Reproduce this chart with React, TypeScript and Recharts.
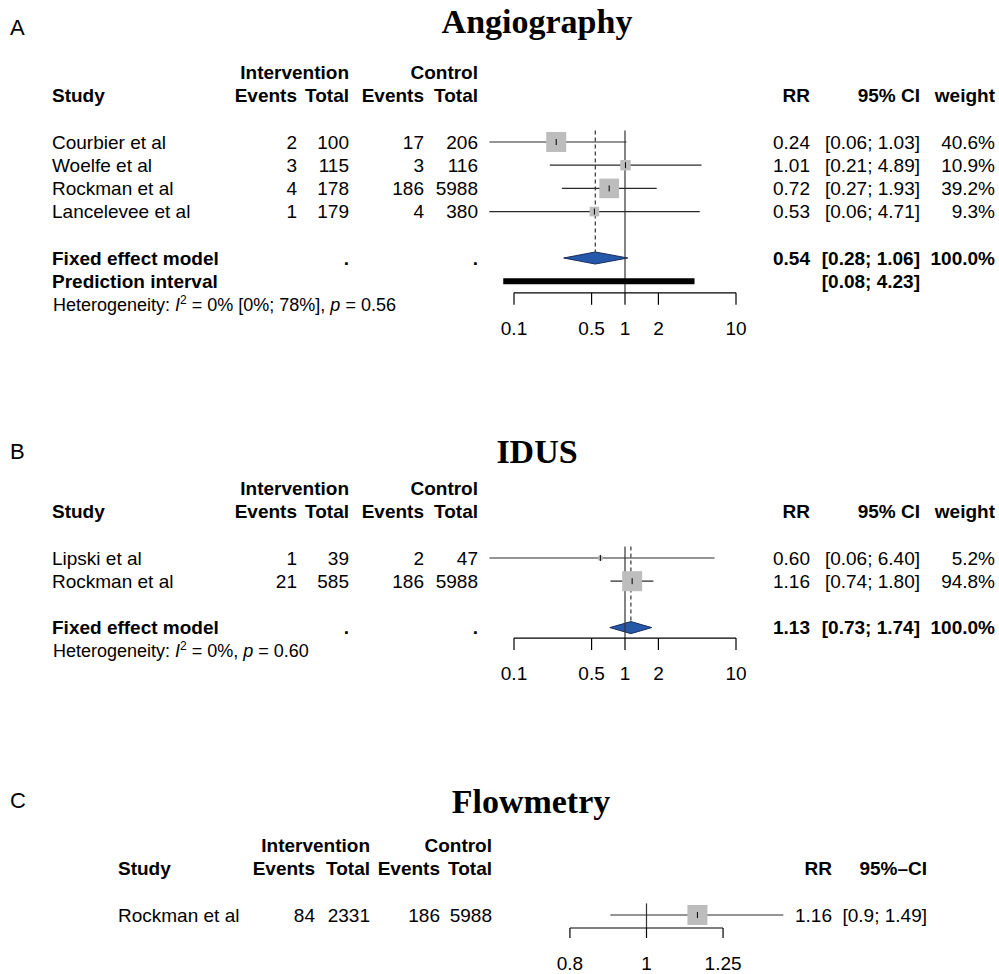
import React from 'react';
import { ComposedChart, XAxis, YAxis, Scatter, Area, ReferenceLine } from 'recharts';

const W = 999;
const H = 974;
const SANS = '"Liberation Sans", Arial, Helvetica, sans-serif';
const SERIF = '"Liberation Serif", "Times New Roman", Times, serif';
const ROW_H = 23.2;
const FS = 19;
const BOX_MAX = 20;
const DIAMOND_HALF = 0.26;
const AXIS_H = 45;

// ---------- Panel A: Angiography ----------
const studiesA = ['Courbier et al', 'Woelfe et al', 'Rockman et al', 'Lancelevee et al'];
const eventsIntA = [2, 3, 4, 1];
const totalIntA = [100, 115, 178, 179];
const eventsCtlA = [17, 3, 186, 4];
const totalCtlA = [206, 116, 5988, 380];
const rrA = [0.24, 1.01, 0.72, 0.53];
const lowA = [0.06, 0.21, 0.27, 0.06];
const highA = [1.03, 4.89, 1.93, 4.71];
const weightA = [40.6, 10.9, 39.2, 9.3];
const fixedA = [0.54, 0.28, 1.06];
const predictionA = [0.08, 4.23];
const hetA = ['0%', ' [0%; 78%]', '0.56'];

// ---------- Panel B: IDUS ----------
const studiesB = ['Lipski et al', 'Rockman et al'];
const eventsIntB = [1, 21];
const totalIntB = [39, 585];
const eventsCtlB = [2, 186];
const totalCtlB = [47, 5988];
const rrB = [0.6, 1.16];
const lowB = [0.06, 0.74];
const highB = [6.4, 1.8];
const weightB = [5.2, 94.8];
const fixedB = [1.13, 0.73, 1.74];
const hetB = ['0%', '', '0.60'];

// ---------- Panel C: Flowmetry ----------
const studiesC = ['Rockman et al'];
const eventsIntC = [84];
const totalIntC = [2331];
const eventsCtlC = [186];
const totalCtlC = [5988];
const rrC = [1.16];
const lowC = [0.9];
const highC = [1.49];
const weightC = [100];

const ticksAB = [0.1, 0.5, 1, 2, 10];
const tickLabelsAB = ['0.1', '0.5', '1', '2', '10'];
const ticksC = [0.8, 1, 1.25];
const tickLabelsC = ['0.8', '1', '1.25'];

type Panel = {
  label: string; title: string; titleX: number; titleBase: number; labelMid: number;
  chartTop: number; chartH: number; row1Y: number; axisRow: number;
  xDomain: [number, number]; xLeft: number; xRight: number;
  ticks: number[]; tickLabels: string[]; tickLen: number;
  studies: string[]; evI: number[]; totI: number[]; evC: number[]; totC: number[];
  rr: number[]; lo: number[]; hi: number[]; w: number[];
  fixed: number[] | null; fixedRow: number; pred: number[] | null; predRow: number;
  het: string[] | null; hetRow: number;
  cols: { study: number; ev1: number; tot1: number; ev2: number; tot2: number; rr: number; ci: number; w: number | null };
  ciHeader: string; ciFixed: boolean;
};

const panels: Panel[] = [
  {
    label: 'A', title: 'Angiography', titleX: 537, titleBase: 33, labelMid: 27,
    chartTop: 0, chartH: 360, row1Y: 142, axisRow: 7.5,
    xDomain: [0.02, 50], xLeft: 625 - 111 * 1.69897, xRight: 625 + 111 * 1.69897,
    ticks: ticksAB, tickLabels: tickLabelsAB, tickLen: 12,
    studies: studiesA, evI: eventsIntA, totI: totalIntA, evC: eventsCtlA, totC: totalCtlA,
    rr: rrA, lo: lowA, hi: highA, w: weightA,
    fixed: fixedA, fixedRow: 6, pred: predictionA, predRow: 7, het: hetA, hetRow: 8,
    cols: { study: 52, ev1: 297, tot1: 349, ev2: 424, tot2: 478, rr: 810, ci: 920, w: 995 },
    ciHeader: '95% CI', ciFixed: true,
  },
  {
    label: 'B', title: 'IDUS', titleX: 537, titleBase: 463, labelMid: 451,
    chartTop: 400, chartH: 300, row1Y: 558, axisRow: 4.45,
    xDomain: [0.02, 50], xLeft: 625 - 111 * 1.69897, xRight: 625 + 111 * 1.69897,
    ticks: ticksAB, tickLabels: tickLabelsAB, tickLen: 12,
    studies: studiesB, evI: eventsIntB, totI: totalIntB, evC: eventsCtlB, totC: totalCtlB,
    rr: rrB, lo: lowB, hi: highB, w: weightB,
    fixed: fixedB, fixedRow: 4, pred: null, predRow: 0, het: hetB, hetRow: 5,
    cols: { study: 52, ev1: 297, tot1: 349, ev2: 424, tot2: 478, rr: 810, ci: 920, w: 995 },
    ciHeader: '95% CI', ciFixed: true,
  },
  {
    label: 'C', title: 'Flowmetry', titleX: 531, titleBase: 813, labelMid: 800,
    chartTop: 760, chartH: 214, row1Y: 915, axisRow: 1.56,
    xDomain: [0.6, 1.6], xLeft: 646.5 + 790 * Math.log10(0.6), xRight: 646.5 + 790 * Math.log10(1.6),
    ticks: ticksC, tickLabels: tickLabelsC, tickLen: 10,
    studies: studiesC, evI: eventsIntC, totI: totalIntC, evC: eventsCtlC, totC: totalCtlC,
    rr: rrC, lo: lowC, hi: highC, w: weightC,
    fixed: null, fixedRow: 0, pred: null, predRow: 0, het: null, hetRow: 0,
    cols: { study: 118, ev1: 315, tot1: 370, ev2: 440, tot2: 492, rr: 832, ci: 927, w: null },
    ciHeader: '95%\u2013CI', ciFixed: false,
  },
];

const rowY = (p: Panel, r: number) => p.row1Y + (r - 1) * ROW_H;
const base = (mid: number, fs: number) => mid + 0.358 * fs;

function Box(props: any) {
  const { cx, cy, payload } = props;
  const s = payload.box;
  return (
    <g>
      <rect x={cx - s / 2} y={cy - s / 2} width={s} height={s} fill="#bdbdbd" />
      <line x1={cx} x2={cx} y1={cy - 3} y2={cy + 3} stroke="#000" strokeWidth={1} />
    </g>
  );
}

function ForestChart({ p }: { p: Panel }) {
  const top = rowY(p, 0);
  const bottom = rowY(p, p.axisRow);
  const wmax = Math.max(...p.w);
  const pts = p.rr.map((v, i) => ({ x: v, y: i + 1, box: BOX_MAX * Math.sqrt(p.w[i] / wmax) }));
  const diamond = p.fixed
    ? [
        { x: p.fixed[1], r: [p.fixedRow, p.fixedRow] },
        { x: p.fixed[0], r: [p.fixedRow - DIAMOND_HALF, p.fixedRow + DIAMOND_HALF] },
        { x: p.fixed[2], r: [p.fixedRow, p.fixedRow] },
      ]
    : [];
  const tickFn = (tp: any) => {
    const { x, y, payload } = tp;
    const i = p.ticks.indexOf(payload.value);
    return (
      <g>
        <line x1={x} y1={y} x2={x} y2={y + p.tickLen} stroke="#000" strokeWidth={1.2} />
        <text x={x} y={base(y + 35, FS)} textAnchor="middle" fontSize={FS} fontFamily={SANS} fill="#000">
          {p.tickLabels[i]}
        </text>
      </g>
    );
  };
  return (
    <div style={{ position: 'absolute', left: 0, top: p.chartTop }}>
      <ComposedChart
        width={W}
        height={p.chartH}
        margin={{ top: top - p.chartTop, bottom: p.chartTop + p.chartH - bottom - AXIS_H, left: p.xLeft, right: W - p.xRight }}
      >
        <XAxis
          type="number"
          dataKey="x"
          scale="log"
          domain={p.xDomain}
          allowDataOverflow
          ticks={p.ticks}
          interval={0}
          axisLine={false}
          tickLine={false}
          tickSize={0}
          tickMargin={0}
          height={AXIS_H}
          tick={tickFn}
        />
        <YAxis type="number" dataKey="y" domain={[0, p.axisRow]} reversed hide width={0} allowDataOverflow />
        <ReferenceLine segment={[{ x: 1, y: 0.5 }, { x: 1, y: p.axisRow }]} stroke="#333" strokeWidth={1.2} />
        {p.fixed && (
          <ReferenceLine
            segment={[{ x: p.fixed[0], y: 0.5 }, { x: p.fixed[0], y: p.fixedRow - DIAMOND_HALF }]}
            stroke="#333"
            strokeWidth={1.2}
            strokeDasharray="4 3"
          />
        )}
        <Scatter data={pts} shape={Box} isAnimationActive={false} />
        {p.rr.map((_, i) => (
          <ReferenceLine
            key={'ci' + i}
            segment={[{ x: p.lo[i], y: i + 1 }, { x: p.hi[i], y: i + 1 }]}
            stroke="#2a2a2a"
            strokeWidth={1.2}
          />
        ))}
        {p.fixed && (
          <Area
            data={diamond}
            dataKey="r"
            type="linear"
            fill="#2557ab"
            fillOpacity={1}
            stroke="#1a2d5c"
            strokeWidth={1}
            dot={false}
            activeDot={false}
            isAnimationActive={false}
          />
        )}
        {p.pred && (
          <ReferenceLine
            segment={[{ x: p.pred[0], y: p.predRow }, { x: p.pred[1], y: p.predRow }]}
            stroke="#000"
            strokeWidth={6}
          />
        )}
        <ReferenceLine
          segment={[{ x: p.ticks[0], y: p.axisRow }, { x: p.ticks[p.ticks.length - 1], y: p.axisRow }]}
          stroke="#000"
          strokeWidth={1.2}
        />
      </ComposedChart>
    </div>
  );
}

function Txt({ x, mid, s, anchor = 'start', bold = false, fs = FS }: any) {
  return (
    <text x={x} y={base(mid, fs)} textAnchor={anchor} fontSize={fs} fontWeight={bold ? 'bold' : 'normal'} fontFamily={SANS} fill="#000">
      {s}
    </text>
  );
}

function PanelText({ p }: { p: Panel }) {
  const c = p.cols;
  const fmtCI = (lo: number, hi: number) =>
    p.ciFixed ? `[${lo.toFixed(2)}; ${hi.toFixed(2)}]` : `[${lo}; ${hi}]`;
  const out: any[] = [];
  const h1 = rowY(p, -1);
  const h0 = rowY(p, -2);
  out.push(<Txt key="l" x={10} mid={p.labelMid} s={p.label} fs={22} />);
  out.push(
    <text key="t" x={p.titleX} y={p.titleBase} textAnchor="middle" fontSize={34} fontWeight="bold" fontFamily={SERIF} fill="#000">
      {p.title}
    </text>
  );
  out.push(<Txt key="hi" x={c.tot1} mid={h0} s="Intervention" anchor="end" bold />);
  out.push(<Txt key="hc" x={c.tot2} mid={h0} s="Control" anchor="end" bold />);
  out.push(<Txt key="hs" x={c.study} mid={h1} s="Study" bold />);
  out.push(<Txt key="he1" x={c.ev1} mid={h1} s="Events" anchor="end" bold />);
  out.push(<Txt key="ht1" x={c.tot1} mid={h1} s="Total" anchor="end" bold />);
  out.push(<Txt key="he2" x={c.ev2} mid={h1} s="Events" anchor="end" bold />);
  out.push(<Txt key="ht2" x={c.tot2} mid={h1} s="Total" anchor="end" bold />);
  out.push(<Txt key="hrr" x={c.rr} mid={h1} s="RR" anchor="end" bold />);
  out.push(<Txt key="hci" x={c.ci} mid={h1} s={p.ciHeader} anchor="end" bold />);
  if (c.w !== null) out.push(<Txt key="hw" x={c.w} mid={h1} s="weight" anchor="end" bold />);
  p.studies.forEach((name, i) => {
    const m = rowY(p, i + 1);
    out.push(<Txt key={'s' + i} x={c.study} mid={m} s={name} />);
    out.push(<Txt key={'a' + i} x={c.ev1} mid={m} s={String(p.evI[i])} anchor="end" />);
    out.push(<Txt key={'b' + i} x={c.tot1} mid={m} s={String(p.totI[i])} anchor="end" />);
    out.push(<Txt key={'c' + i} x={c.ev2} mid={m} s={String(p.evC[i])} anchor="end" />);
    out.push(<Txt key={'d' + i} x={c.tot2} mid={m} s={String(p.totC[i])} anchor="end" />);
    out.push(<Txt key={'r' + i} x={c.rr} mid={m} s={p.rr[i].toFixed(2)} anchor="end" />);
    out.push(<Txt key={'ci' + i} x={c.ci} mid={m} s={fmtCI(p.lo[i], p.hi[i])} anchor="end" />);
    if (c.w !== null) out.push(<Txt key={'w' + i} x={c.w} mid={m} s={p.w[i].toFixed(1) + '%'} anchor="end" />);
  });
  if (p.fixed) {
    const m = rowY(p, p.fixedRow);
    out.push(<Txt key="fm" x={c.study} mid={m} s="Fixed effect model" bold />);
    out.push(<Txt key="fd1" x={c.tot1} mid={m} s="." anchor="end" bold />);
    out.push(<Txt key="fd2" x={c.tot2} mid={m} s="." anchor="end" bold />);
    out.push(<Txt key="fr" x={c.rr} mid={m} s={p.fixed[0].toFixed(2)} anchor="end" bold />);
    out.push(<Txt key="fc" x={c.ci} mid={m} s={fmtCI(p.fixed[1], p.fixed[2])} anchor="end" bold />);
    if (c.w !== null) out.push(<Txt key="fw" x={c.w} mid={m} s="100.0%" anchor="end" bold />);
  }
  if (p.pred) {
    const m = rowY(p, p.predRow);
    out.push(<Txt key="pm" x={c.study} mid={m} s="Prediction interval" bold />);
    out.push(<Txt key="pc" x={c.ci} mid={m} s={fmtCI(p.pred[0], p.pred[1])} anchor="end" bold />);
  }
  if (p.het) {
    const fs = 18;
    const m = rowY(p, p.hetRow);
    out.push(
      <text key="het" x={c.study + 1} y={base(m, fs)} fontSize={fs} fontFamily={SANS} fill="#000">
        <tspan>Heterogeneity: </tspan>
        <tspan fontStyle="italic">I</tspan>
        <tspan fontSize={12} dy={-7}>2</tspan>
        <tspan dy={7}>{` = ${p.het[0]}${p.het[1]}, `}</tspan>
        <tspan fontStyle="italic">p</tspan>
        <tspan>{` = ${p.het[2]}`}</tspan>
      </text>
    );
  }
  return <>{out}</>;
}

export default function App() {
  return (
    <div style={{ position: 'absolute', left: 0, top: 0, width: W, height: H, background: '#fff', overflow: 'hidden' }}>
      {panels.map((p) => (
        <ForestChart key={p.label} p={p} />
      ))}
      <svg width={W} height={H} style={{ position: 'absolute', left: 0, top: 0, pointerEvents: 'none' }}>
        {panels.map((p) => (
          <PanelText key={p.label} p={p} />
        ))}
      </svg>
    </div>
  );
}
